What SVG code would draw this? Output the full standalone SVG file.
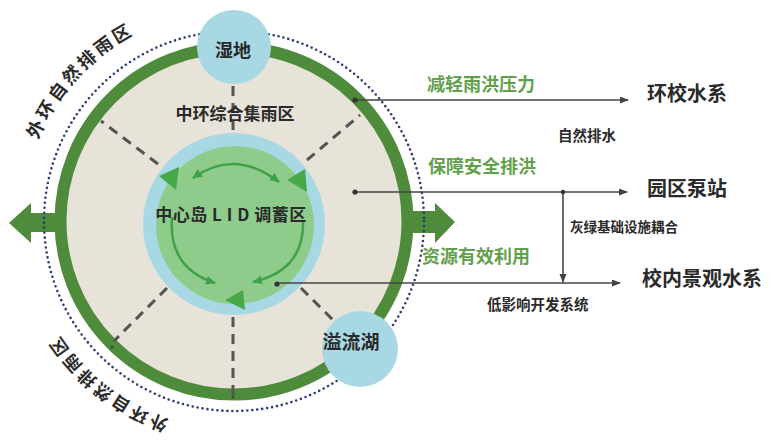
<svg xmlns="http://www.w3.org/2000/svg" width="772" height="441" viewBox="0 0 772 441">
<style>
.lbl{font-family:"Noto Sans CJK SC","Noto Sans",sans-serif;font-weight:700;fill:#2a2a2a}
.grn{font-family:"Noto Sans CJK SC","Noto Sans",sans-serif;font-weight:700;fill:#62a04c;font-size:18px}
.sm{font-family:"Noto Sans CJK SC","Noto Sans",sans-serif;font-weight:700;fill:#2a2a2a}
.dash{stroke:#555;stroke-width:3;stroke-dasharray:10 7;fill:none}
.ln{stroke:#444;stroke-width:1.6;fill:none}
.iarc{stroke:#3fa24a;stroke-width:2.5;fill:none}
.pool{fill:#a8d8e3}
</style>
<defs>
<marker id="ah" markerUnits="userSpaceOnUse" markerWidth="10" markerHeight="8" refX="8" refY="3.5" orient="auto"><path d="M0,0 L9,3.5 L0,7 z" fill="#444"/></marker>
<marker id="ga" markerUnits="userSpaceOnUse" markerWidth="12" markerHeight="10" refX="9" refY="4.5" orient="auto-start-reverse"><path d="M0,0 L10,4.5 L0,9 z" fill="#3fa24a"/></marker>
<path id="ringPath" d="M234,433 A212,212 0 1 1 234,9 A212,212 0 1 1 234,433"/>
<path id="ringPath2" d="M234,430 A209,209 0 1 1 234,12 A209,209 0 1 1 234,430"/>
</defs>
<rect width="772" height="441" fill="#fff"/>

<g id="outer-zone">
<polygon points="9,223 31,203 31,213 62,213 62,232 31,232 31,243" fill="#4e8b3a"/>
<polygon points="455,222 435,203 435,211 408,211 408,233 435,233 435,243" fill="#4e8b3a"/>
<circle cx="234" cy="221" r="173.5" fill="#e7e3d9" stroke="#4e8b3a" stroke-width="12"/>
<circle cx="234" cy="221" r="190" fill="none" stroke="#2e3b77" stroke-width="2.6" stroke-linecap="round" stroke-dasharray="0 5"/>
<text class="lbl" font-size="18" letter-spacing="3"><textPath href="#ringPath" startOffset="416">外环自然排雨区</textPath></text>
<text class="lbl" font-size="17.5" letter-spacing="3"><textPath href="#ringPath2" startOffset="66">外环自然排雨区</textPath></text>
</g>

<g id="dashes">
<line class="dash" x1="233" y1="86" x2="233" y2="133"/>
<line class="dash" x1="233" y1="317" x2="233" y2="396"/>
<line class="dash" x1="158" y1="164" x2="101" y2="121"/>
<line class="dash" x1="307" y1="160" x2="360" y2="115"/>
<line class="dash" x1="167" y1="288" x2="114" y2="341"/>
<line class="dash" x1="301" y1="288" x2="345" y2="332"/>
<circle cx="112" cy="347" r="1.6" fill="#444"/>
<circle cx="233" cy="397" r="1.6" fill="#444"/>
</g>

<g id="mid-zone">
<text class="lbl" x="235" y="120" font-size="17" text-anchor="middle">中环综合集雨区</text>
</g>

<g id="wetland">
<circle class="pool" cx="234" cy="47" r="37"/>
<text class="lbl" x="233" y="57" font-size="18" text-anchor="middle">湿地</text>
</g>

<g id="overflow-lake">
<circle class="pool" cx="360" cy="349" r="38"/>
<text class="lbl" x="351" y="349" font-size="19" text-anchor="middle">溢流湖</text>
</g>

<g id="lid-core">
<circle cx="234" cy="224" r="91" fill="#a8d8e3"/>
<circle cx="235" cy="225" r="79" fill="#8fcc8c"/>
<path class="iarc" d="M193,178 Q235,148 279,182" marker-start="url(#ga)" marker-end="url(#ga)"/>
<path class="iarc" d="M172,217 Q168,268 215,283" marker-end="url(#ga)"/>
<path class="iarc" d="M303,220 Q305,270 253,282" marker-end="url(#ga)"/>
<polygon points="159,176 179,167 176,190" fill="#46a848"/>
<polygon points="287,180 305,169 307,192" fill="#46a848"/>
<polygon points="225,300 243,290 245,310" fill="#46a848"/>
<text class="lbl" x="231" y="221" font-size="17" text-anchor="middle" letter-spacing="0.5">中心岛 L I D 调蓄区</text>
</g>

<g id="connectors">
<line class="ln" x1="355" y1="100" x2="628" y2="100" marker-end="url(#ah)"/>
<circle cx="355" cy="100" r="2.6" fill="#333"/>
<line class="ln" x1="355" y1="192" x2="627" y2="192" marker-end="url(#ah)"/>
<circle cx="355" cy="192" r="2.6" fill="#333"/>
<line class="ln" x1="277" y1="283" x2="620" y2="283" marker-end="url(#ah)"/>
<circle cx="277" cy="284" r="2.6" fill="#333"/>
<line class="ln" x1="563" y1="192" x2="563" y2="282" marker-end="url(#ah)"/>
<circle cx="563" cy="192" r="2.2" fill="#333"/>
</g>

<g id="labels">
<text class="grn" x="427" y="91">减轻雨洪压力</text>
<text class="grn" x="428" y="173">保障安全排洪</text>
<text class="grn" x="422" y="263">资源有效利用</text>
<text class="lbl" x="647" y="101" font-size="20">环校水系</text>
<text class="lbl" x="647" y="196" font-size="20">园区泵站</text>
<text class="lbl" x="642" y="286" font-size="20">校内景观水系</text>
<text class="sm" x="558" y="141" font-size="14.5">自然排水</text>
<text class="sm" x="570" y="232" font-size="13.5">灰绿基础设施耦合</text>
<text class="sm" x="487" y="310" font-size="14.5">低影响开发系统</text>
</g>
</svg>
